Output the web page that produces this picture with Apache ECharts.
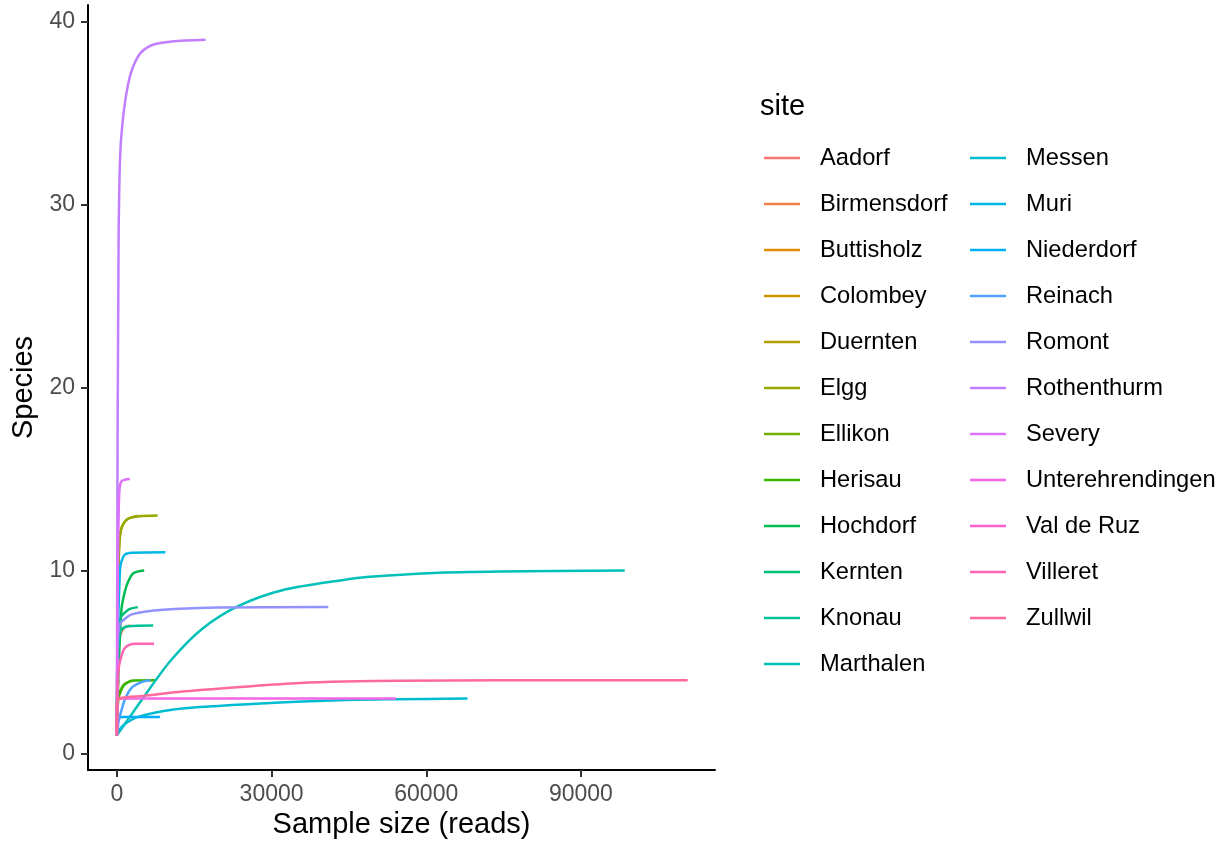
<!DOCTYPE html>
<html>
<head>
<meta charset="utf-8">
<script src="https://cdn.jsdelivr.net/npm/echarts@6/dist/echarts.min.js"></script>
<style>
html,body{margin:0;padding:0;background:#fff;}
#chart{width:1228px;height:845px;}
</style>
</head>
<body>
<div id="chart"></div>
<script>
// ---- data: [reads, species] pairs ----
const sites = ["Aadorf","Birmensdorf","Buttisholz","Colombey","Duernten","Elgg","Ellikon","Herisau","Hochdorf","Kernten","Knonau","Marthalen","Messen","Muri","Niederdorf","Reinach","Romont","Rothenthurm","Severy","Unterehrendingen","Val de Ruz","Villeret","Zullwil"];

const aadorf = [[1,1],[40,2.2],[120,2.8],[250,3]];
const birmensdorf = [[1,1],[100,3.5],[300,5.5],[700,6.5],[1500,6.9],[2600,7]];
const buttisholz = [[1,1],[60,2.5],[180,3.6],[300,4]];
const colombey = [[1,1],[80,3.5],[200,5],[320,5.5]];
const duernten = [[1,1],[100,6],[250,9.5],[400,11],[600,11.9],[1000,12.4],[2000,12.8],[4000,13]];
const elgg = [[1,1],[100,6],[250,9.5],[400,11],[600,11.9],[1000,12.4],[2000,12.8],[4000,12.95],[7900,13]];
const ellikon = [[1,1],[150,2.8],[600,3.4],[1500,3.8],[3000,4]];
const herisau = [[1,1],[100,2.2],[300,3],[600,3.3],[1500,3.77],[3500,3.99],[7370,4]];
const hochdorf = [[1,1],[200,3.5],[500,5.8],[900,7.9],[1500,8.8],[2200,9.4],[3200,9.85],[5300,10]];
const kernten = [[1,1],[80,4],[250,6.2],[580,7.3],[1000,7.55],[1550,7.7],[2500,7.9],[4070,8]];
const knonau = [[1,1],[100,4],[250,5.7],[500,6.4],[900,6.78],[2200,6.96],[7040,7]];
const marthalen = [[1,1],[1000,1.4],[3500,2.4],[6700,3.68],[10600,5.14],[16400,6.78],[23500,8.05],[32600,8.96],[44200,9.5],[48400,9.65],[61300,9.87],[74300,9.95],[98500,10]];
const messen = [[1,1],[500,1.3],[1500,1.6],[4100,2.0],[11000,2.4],[19600,2.6],[32600,2.8],[44200,2.93],[54000,2.97],[68000,3]];
const muri = [[1,1],[100,4],[250,7],[580,9.9],[800,10.4],[1550,10.87],[3000,10.97],[9400,11]];
const niederdorf = [[1,1],[50,1.6],[300,1.95],[1000,2],[8340,2]];
const reinach = [[1,1],[300,1.7],[580,2.04],[1550,2.95],[2850,3.59],[4790,3.9],[6500,4]];
const romont = [[1,1],[50,4],[200,6.3],[580,7.05],[1500,7.35],[2850,7.6],[6070,7.78],[11250,7.9],[19650,7.98],[41000,8]];
const rothenthurm = [[1,1],[50,8],[150,18],[300,26],[400,29.7],[800,33.5],[2190,36.6],[4130,38.1],[6730,38.7],[10600,38.9],[17200,39]];
const severy = [[1,1],[80,6],[200,10.5],[400,13.8],[580,14.6],[1000,14.9],[2500,15]];
const unterehrendingen = [[1,1],[30,2.5],[200,2.95],[1000,3],[54100,3]];
const valDeRuz = [[1,1],[40,2.6],[200,2.95],[800,3]];
const villeret = [[1,1],[100,3],[300,4.5],[580,5.0],[1550,5.77],[3500,6],[7200,6]];
const zullwil = [[1,1],[20,2],[100,2.9],[1000,3.05],[5000,3.15],[13200,3.4],[26100,3.68],[35500,3.85],[44200,3.93],[54900,3.98],[75000,4],[110700,4]];

const curves = [aadorf,birmensdorf,buttisholz,colombey,duernten,elgg,ellikon,herisau,hochdorf,kernten,knonau,marthalen,messen,muri,niederdorf,reinach,romont,rothenthurm,severy,unterehrendingen,valDeRuz,villeret,zullwil];

const xTicks = [0, 30000, 60000, 90000];
const yTicks = [0, 10, 20, 30, 40];

// ---- styling ----
const palette = ["#F8766D","#EE8043","#DD8D00","#CB9600","#B49F00","#96A900","#74AF00","#36B600","#00BB4E","#00BF77","#00C19A","#00C0B8","#00BCD3","#00B7E8","#00AEF9","#4BA2FF","#9191FF","#C17FFF","#DD71FA","#F366E6","#FE61CF","#FF64B2","#FF6A98"];
const FONT = "Liberation Sans, Arial, sans-serif";

const chart = echarts.init(document.getElementById('chart'), null, {renderer:'canvas'});

const series = sites.map((s, i) => ({
  name: s,
  type: 'line',
  data: curves[i],
  showSymbol: false,
  symbol: 'none',
  smooth: 0.3,
  lineStyle: { width: 2.5, color: palette[i] },
  itemStyle: { color: palette[i] },
  emphasis: { disabled: true },
  z: 2
}));

const legendCommon = {
  orient: 'vertical',
  top: 146,
  icon: 'rect',
  itemWidth: 36,
  itemHeight: 2.5,
  itemGap: 22,
  padding: 0,
  selectedMode: false,
  textStyle: { fontFamily: FONT, fontSize: 23.7, lineHeight: 23, color: '#000', padding: [0,0,0,15] }
};

chart.setOption({
  animation: false,
  backgroundColor: '#fff',
  color: palette,
  grid: { left: 88, right: 513, top: 5, bottom: 75, containLabel: false, outerBoundsMode: 'none' },
  xAxis: {
    type: 'value',
    min: -5600, max: 116000,
    name: 'Sample size (reads)',
    nameLocation: 'middle',
    nameGap: 40,
    nameTextStyle: { fontFamily: FONT, fontSize: 29, color: '#000' },
    axisLine: { show: true, onZero: false, lineStyle: { color: '#000', width: 2 } },
    axisTick: { show: true, length: 7, lineStyle: { color: '#333', width: 2 }, customValues: xTicks },
    axisLabel: { fontFamily: FONT, fontSize: 23, color: '#4D4D4D', margin: 13, customValues: xTicks,
      formatter: v => String(v) },
    splitLine: { show: false }
  },
  yAxis: {
    type: 'value',
    min: -0.9, max: 40.9,
    name: 'Species',
    nameLocation: 'middle',
    nameGap: 42,
    nameRotate: 90,
    nameTextStyle: { fontFamily: FONT, fontSize: 29, color: '#000' },
    axisLine: { show: true, onZero: false, lineStyle: { color: '#000', width: 2 } },
    axisTick: { show: true, length: 7, lineStyle: { color: '#333', width: 2 }, customValues: yTicks },
    axisLabel: { fontFamily: FONT, fontSize: 23, color: '#4D4D4D', margin: 13, customValues: yTicks,
      formatter: v => String(v) },
    splitLine: { show: false }
  },
  legend: [
    Object.assign({}, legendCommon, { left: 764, data: sites.slice(0, 12) }),
    Object.assign({}, legendCommon, { left: 970, data: sites.slice(12) })
  ],
  graphic: [{
    type: 'text', left: 760, top: 92,
    style: { text: 'site', fontFamily: FONT, fontSize: 29, fill: '#000' }
  }],
  series: series
});
</script>
</body>
</html>
